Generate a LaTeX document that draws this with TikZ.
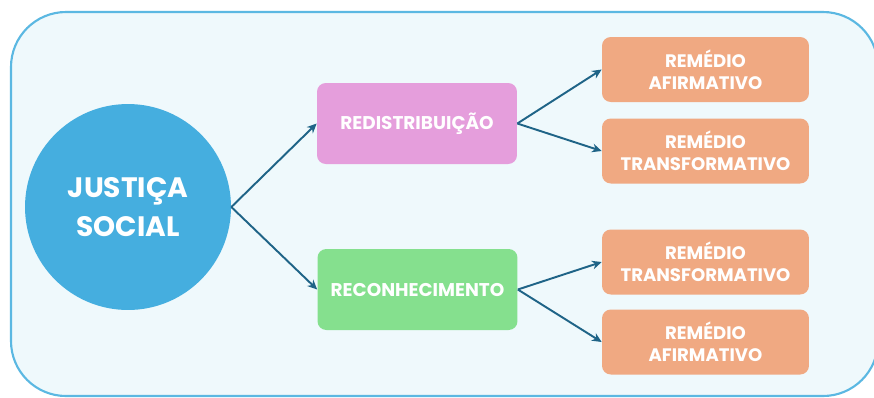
\documentclass[tikz,border=0pt]{standalone}
\usepackage{fontspec}
\setmainfont{Poppins}
\usetikzlibrary{arrows.meta}

\definecolor{framecol}{HTML}{5BB8E2}
\definecolor{bgcol}{HTML}{EFF9FC}
\definecolor{circcol}{HTML}{45AEDF}
\definecolor{redcol}{HTML}{E59EDC}
\definecolor{reccol}{HTML}{85E08E}
\definecolor{remcol}{HTML}{F0A982}
\definecolor{arrcol}{HTML}{1F6487}

\tikzset{
  hub/.style={circle, fill=circcol, minimum size=4.12cm, inner sep=0pt, text=white, align=center,
    font=\bfseries\fontsize{16}{22}\selectfont},
  branch/.style={rounded corners=5pt, minimum width=4cm, minimum height=1.62cm, inner sep=0pt,
    text=white, align=center, font=\bfseries\fontsize{10.5}{13}\selectfont},
  remedy/.style={rounded corners=5pt, fill=remcol, minimum width=4.14cm, minimum height=1.3cm,
    inner sep=0pt, text=white, align=center, font=\bfseries\fontsize{10.3}{12.5}\selectfont},
  link/.style={draw=arrcol, line width=1.1pt, -{Stealth[length=5.5pt,width=5pt]}}
}

\begin{document}
\begin{tikzpicture}[x=0.02cm, y=-0.02cm]
      \useasboundingbox (0, 0) rectangle (874, 397);

      %%frame
      \begin{scope}
        \clip (0, 0) rectangle (874, 397);
        \fill[white] (0, 0) rectangle (874, 397);
        \draw[framecol, fill=bgcol, line width=1.2pt, rounded corners=1.1cm] (11, 12) rectangle (878, 396);
      \end{scope}

      %%center
      \node[hub] (js) at (128, 207) {JUSTIÇA\\SOCIAL};

      %%branches
      \node[branch, fill=redcol] (redist) at (417, 123.5) {REDISTRIBUIÇÃO};
      \node[branch, fill=reccol] (recon) at (417.5, 289.5) {RECONHECIMENTO};

      %%remedies
      \node[remedy] (ra1) at (705.5, 69.5) {REMÉDIO\\AFIRMATIVO};
      \node[remedy] (rt1) at (705.5, 151) {REMÉDIO\\TRANSFORMATIVO};
      \node[remedy] (rt2) at (705.5, 262) {REMÉDIO\\TRANSFORMATIVO};
      \node[remedy] (ra2) at (705.5, 342) {REMÉDIO\\AFIRMATIVO};

      %%arrows
      \draw[link] (js.east) to (redist.west);
      \draw[link] (js.east) to (recon.west);

      \draw[link] (redist.east) to (ra1.west);
      \draw[link] (redist.east) to (rt1.west);

      \draw[link] (recon.east) to (rt2.west);
      \draw[link] (recon.east) to (ra2.west);

\end{tikzpicture}
\end{document}
